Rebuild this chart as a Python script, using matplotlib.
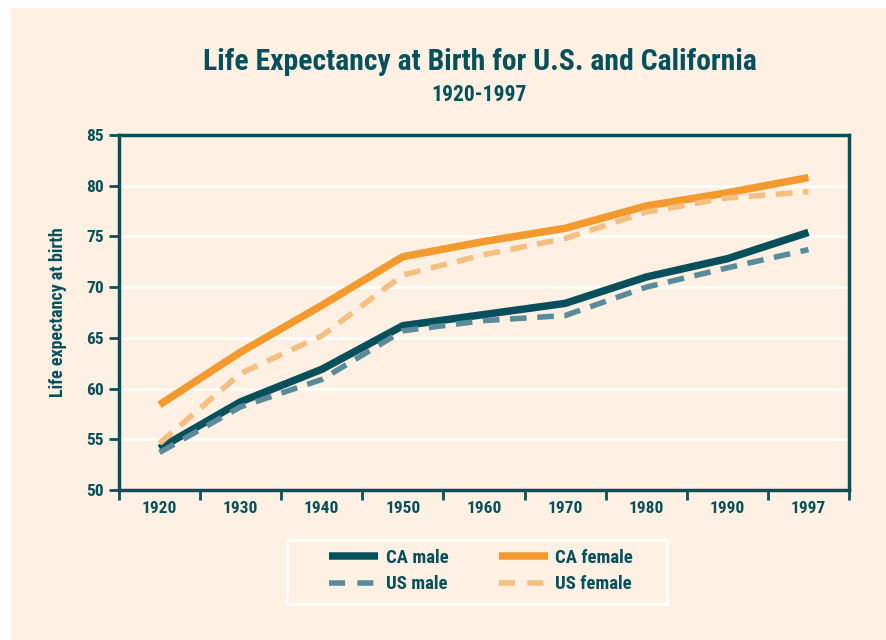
import numpy as np
import matplotlib.pyplot as plt
from matplotlib import font_manager
from matplotlib.patches import Rectangle
from matplotlib.lines import Line2D

years = ['1920', '1930', '1940', '1950', '1960', '1970', '1980', '1990', '1997']
ca_male = [54.1, 58.7, 61.9, 66.2, 67.3, 68.4, 71.0, 72.8, 75.4]
us_male = [53.7, 58.2, 60.9, 65.7, 66.7, 67.2, 70.0, 71.9, 73.7]
ca_female = [58.4, 63.6, 68.2, 73.0, 74.5, 75.8, 78.0, 79.3, 80.8]
us_female = [54.6, 61.5, 65.2, 71.2, 73.2, 74.8, 77.4, 78.8, 79.4]

teal = '#06505C'
orange = '#F39A2E'
lorange = '#F6BE80'
grayblue = '#5A8B9B'
cream = '#FEF1E3'

# narrow bold font, whichever is there
wanted = ['Roboto Condensed', 'Archivo Narrow', 'Fira Sans Condensed',
          'Barlow Semi Condensed', 'Asap Condensed', 'Encode Sans Condensed']
bold = {f.name for f in font_manager.fontManager.ttflist
        if (f.weight if isinstance(f.weight, int) else 400) >= 700
        or f.weight == 'bold'}
fam = next((n for n in wanted if n in bold), 'DejaVu Sans')
plt.rcParams['font.family'] = [fam, 'DejaVu Sans']
plt.rcParams['font.weight'] = 'bold'
plt.rcParams['axes.labelweight'] = 'bold'

fig = plt.figure(figsize=(8.86, 6.4), dpi=100, facecolor='white')
W, H = 886, 640
# cream panel
fig.patches.append(Rectangle((11 / W, 0), 1 - 11 / W, 1 - 8 / H,
                             transform=fig.transFigure, facecolor=cream,
                             edgecolor='none', zorder=-5))
# legend box
fig.patches.append(Rectangle((287 / W, 1 - 604 / H), 380 / W, 64 / H,
                             transform=fig.transFigure, facecolor='none',
                             edgecolor='white', lw=2, zorder=1))

ax = fig.add_axes([119 / W, 1 - 490 / H, 730 / W, 355 / H])
ax.set_facecolor(cream)
x = np.arange(len(years))

dash = (3.0, 1.9)
ax.plot(x, ca_female, color=orange, lw=5.4, solid_capstyle='butt', zorder=3)
ax.plot(x, ca_male, color=teal, lw=5.4, solid_capstyle='butt', zorder=3)
ax.plot(x, us_female, color=lorange, lw=4, dashes=dash,
        dash_capstyle='butt', zorder=4)
ax.plot(x, us_male, color=grayblue, lw=4, dashes=dash,
        dash_capstyle='butt', zorder=4)

ax.set_xlim(-0.5, len(years) - 0.5)
ax.set_ylim(50, 85)
ax.set_yticks(np.arange(50, 86, 5))
ax.yaxis.grid(True, color='white', lw=2)
ax.set_axisbelow(True)

ax.set_xticks(x)
ax.set_xticklabels(years)
ax.set_xticks(np.arange(-0.5, len(years)), minor=True)
ax.tick_params(axis='x', which='major', length=0, pad=8, labelsize=12.5, labelcolor=teal)
ax.tick_params(axis='x', which='minor', length=7, width=2, color=teal, direction='out')
ax.tick_params(axis='y', length=7, width=2, color=teal, labelsize=12.5, labelcolor=teal, pad=4)
for s in ax.spines.values():
    s.set_color(teal)
    s.set_linewidth(2.5)

ax.set_ylabel('Life expectancy at birth', fontsize=13, color=teal, labelpad=14)

fig.text(480 / W, 1 - 62 / H, 'Life Expectancy at Birth for U.S. and California',
         ha='center', va='center', fontsize=21.3, color=teal, fontweight='bold')
fig.text(479 / W, 1 - 95 / H, '1920-1997', ha='center', va='center',
         fontsize=15.5, color=teal, fontweight='bold')

handles = [Line2D([], [], color=teal, lw=5.4, solid_capstyle='butt'),
           Line2D([], [], color=grayblue, lw=4, dashes=(2.9, 2.2)),
           Line2D([], [], color=orange, lw=5.4, solid_capstyle='butt'),
           Line2D([], [], color=lorange, lw=4, dashes=(2.9, 2.2))]
labels = ['CA male', 'US male', 'CA female', 'US female']
leg = fig.legend(handles, labels, ncol=2, loc='center',
                 bbox_to_anchor=(481 / W, 1 - 571 / H), frameon=False,
                 fontsize=13.5, handlelength=2.6, handletextpad=0.4,
                 columnspacing=2.7, labelspacing=0.45)
for t in leg.get_texts():
    t.set_color(teal)

fig.savefig('out.png', dpi=100, facecolor='white')
